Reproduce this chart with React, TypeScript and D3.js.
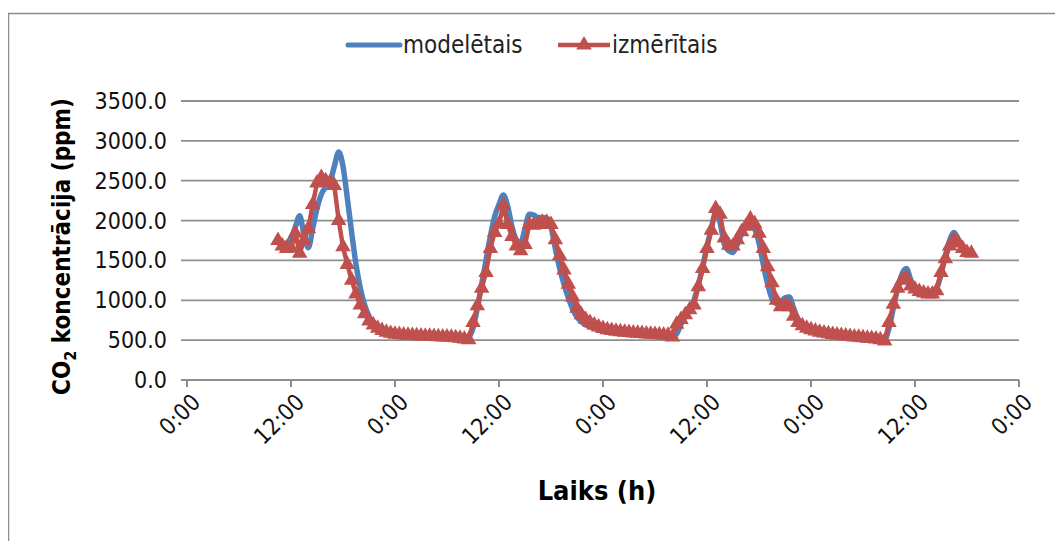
import * as d3 from 'd3';

// time grid: readings every half hour, first one at 10:30 on day 1
const startHour = 10.5;
const stepHours = 0.5;

const measured = [
  1750, 1680, 1650, 1660, 1840, 1590, 1750, 1900, 2200, 2470, 2540, 2500, 2480, 2440, 2000, 1670,
  1450, 1250, 1080, 940, 830, 740, 690, 650, 620, 600, 585, 575,
  570, 565, 560, 558, 555, 552, 550, 548, 545, 542, 540, 538, 535, 530, 525, 515,
  505, 720, 930, 1150, 1350, 1650, 1850, 1960, 2190, 1950, 1800, 1680, 1620, 1700, 1950, 1940,
  1950, 1980, 1980, 1950, 1760, 1560, 1380, 1200, 1040, 900, 820, 760, 720, 690, 665, 645,
  630, 620, 612, 605, 600, 595, 590, 586, 582, 578, 575, 572, 568, 565, 560,
  540, 700, 760, 820, 880, 940, 1170, 1400, 1650, 1880, 2150, 2080, 1780, 1690, 1680, 1760,
  1860, 1930, 2020, 1960, 1840, 1650, 1420, 1220, 1000, 920, 940, 920, 800, 720, 680, 650, 630,
  615, 600, 590, 580, 572, 565, 558, 552, 546, 540, 535, 530, 525, 520, 515, 505,
  490, 720, 950, 1150, 1250, 1280, 1180, 1140, 1110, 1090, 1080, 1080, 1120, 1350, 1520, 1680,
  1760, 1720, 1650, 1600, 1590,
];

const modelled = [
  1700, 1690, 1720, 1780, 1920, 2060, 1820, 1660, 1900, 2150, 2330, 2420, 2480, 2680, 2860, 2680,
  2280, 1850, 1450, 1150, 940, 800, 720, 665, 630, 605, 590, 578,
  572, 567, 562, 559, 556, 553, 551, 549, 546, 543, 541, 539, 536, 532, 528, 522,
  540, 650, 900, 1200, 1500, 1800, 2050, 2200, 2320, 2180, 1920, 1760, 1720, 1900, 2080, 2070,
  2040, 2040, 2030, 1920, 1650, 1400, 1200, 1030, 890, 790, 730, 690, 665, 648, 635, 625,
  618, 612, 606, 601, 597, 593, 589, 585, 581, 578, 575, 572, 568, 565, 562,
  545, 580, 700, 800, 880, 1000, 1200, 1420, 1680, 1900, 2100, 1980, 1700, 1620, 1600, 1700,
  1830, 1920, 1960, 1900, 1720, 1450, 1200, 1020, 960, 980, 1030, 1040, 900, 760, 690, 655, 632,
  617, 602, 591, 581, 573, 566, 559, 553, 547, 541, 536, 531, 526, 521, 516, 510,
  510, 650, 900, 1150, 1330, 1400, 1260, 1160, 1120, 1100, 1090, 1090, 1150, 1320, 1560, 1750,
  1850, 1760, 1660, 1610, 1590,
];

const seriesNames = ['modelētais', 'izmērītais'];
const yTicks = [0, 500, 1000, 1500, 2000, 2500, 3000, 3500];
const xTicks = [0, 12, 24, 36, 48, 60, 72, 84, 96];
const xTickLabels = ['0:00', '12:00', '0:00', '12:00', '0:00', '12:00', '0:00', '12:00', '0:00'];

const BLUE = '#4F81BD';
const RED = '#C0504D';
const GRID = '#8E8E8E';
const FONT = '"Liberation Sans Narrow", "DejaVu Sans Condensed", "Liberation Sans", sans-serif';

export default function App() {
  const width = 1055;
  const height = 533;
  const left = 179;
  const right = 1011;
  const top = 93;
  const bottom = 372;

  const x = d3.scaleLinear().domain([0, 96]).range([left, right]);
  const y = d3.scaleLinear().domain([0, 3500]).range([bottom, top]);

  const hourAt = (i) => startHour + i * stepHours;

  const modelLine = d3
    .line()
    .x((d, i) => x(hourAt(i)))
    .y((d) => y(d))
    .curve(d3.curveMonotoneX);

  const measuredLine = d3
    .line()
    .x((d, i) => x(hourAt(i)))
    .y((d) => y(d));

  const triangle = d3.symbol(d3.symbolTriangle).size(105)();

  return (
    <svg width={width} height={height} style={{ display: 'block', fontFamily: FONT }}>
      <rect x={0.5} y={5.5} width={width + 20} height={height + 20} fill="#fff" stroke="#8c8c8c" strokeWidth={1.5} />

      {/* legend */}
      <g transform="translate(340, 37)">
        <line x1={0} x2={52} y1={0} y2={0} stroke={BLUE} strokeWidth={5} strokeLinecap="round" />
        <text x={55} y={8} fontSize={24} fill="#222">{seriesNames[0]}</text>
        <line x1={210} x2={262} y1={0} y2={0} stroke={RED} strokeWidth={4.5} />
        <path d={triangle} transform="translate(236, 0)" fill={RED} />
        <text x={264} y={8} fontSize={24} fill="#222">{seriesNames[1]}</text>
      </g>

      {/* grid + y axis */}
      {yTicks.map((t) => (
        <g key={t}>
          <line x1={left - 6} x2={right} y1={y(t)} y2={y(t)} stroke={GRID} strokeWidth={t === 0 ? 2 : 1.8} />
          <text x={left - 20} y={y(t)} dy="0.35em" textAnchor="end" fontSize={23} fill="#111">
            {t.toFixed(1)}
          </text>
        </g>
      ))}

      {/* x axis ticks */}
      {xTicks.map((t, i) => (
        <g key={i}>
          <line x1={x(t)} x2={x(t)} y1={bottom} y2={bottom + 7} stroke={GRID} strokeWidth={2} />
          <text
            transform={`translate(${x(t) + 9}, ${bottom + 18}) rotate(-45)`}
            textAnchor="end"
            dy="0.35em"
            fontSize={23}
            fill="#111"
          >
            {xTickLabels[i]}
          </text>
        </g>
      ))}

      {/* series */}
      <path d={modelLine(modelled)} fill="none" stroke={BLUE} strokeWidth={5.5} strokeLinejoin="round" />
      <path d={measuredLine(measured)} fill="none" stroke={RED} strokeWidth={4.5} strokeLinejoin="round" />
      {measured.map((v, i) => (
        <path key={i} d={triangle} transform={`translate(${x(hourAt(i))}, ${y(v)})`} fill={RED} />
      ))}

      {/* axis titles */}
      <text x={(left + right) / 2 - 6} y={492} textAnchor="middle" fontSize={27} fontWeight="bold" fill="#000">
        Laiks (h)
      </text>
      <text
        transform={`translate(62, ${(top + bottom) / 2 + 6}) rotate(-90)`}
        textAnchor="middle"
        fontSize={24}
        fontWeight="bold"
        fill="#000"
      >
        CO<tspan fontSize={16} dy="6">2</tspan>
        <tspan dy="-6"> koncentrācija (ppm)</tspan>
      </text>
    </svg>
  );
}
